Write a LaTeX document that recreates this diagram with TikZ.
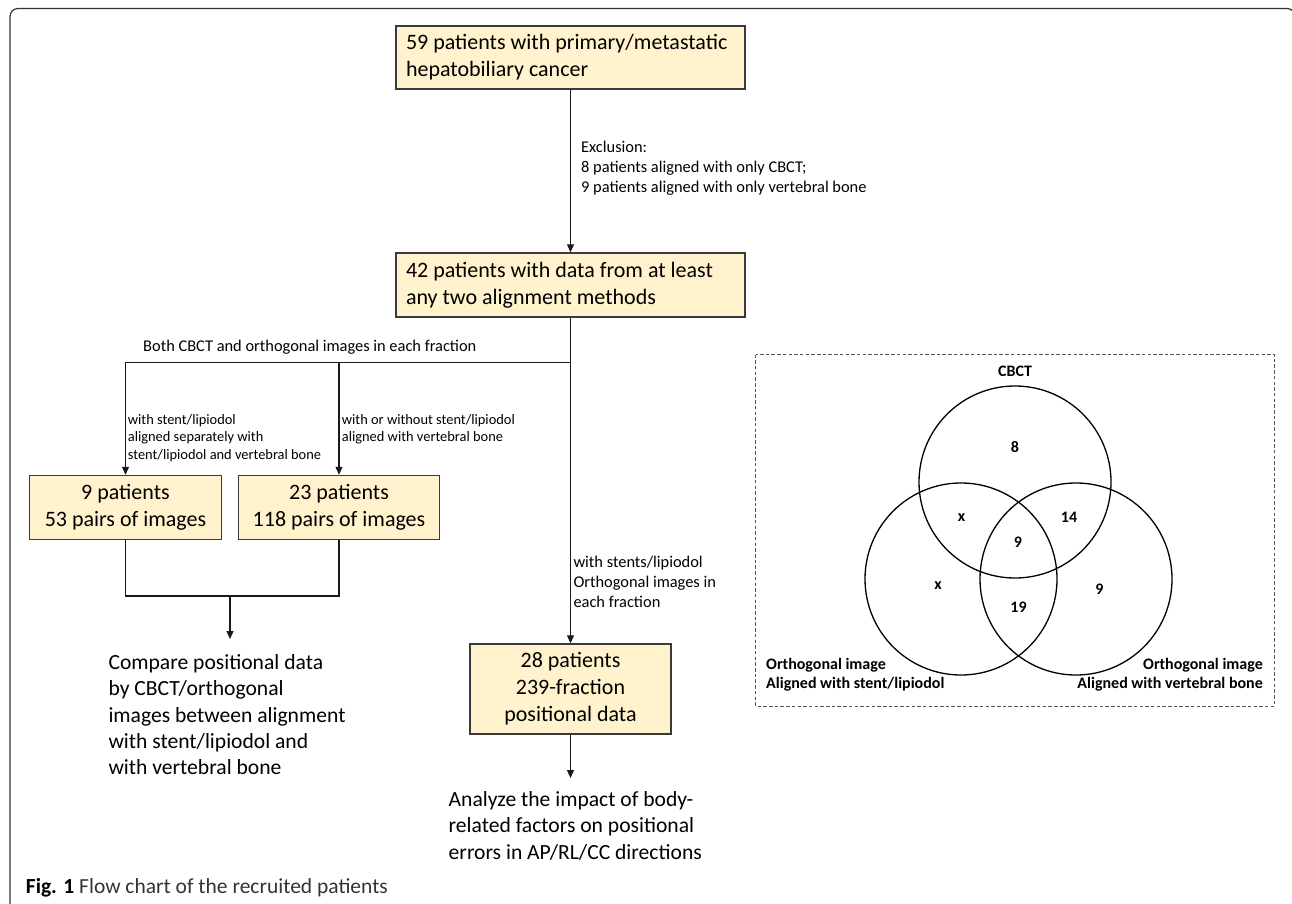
\documentclass[tikz,border=0pt]{standalone}
\usepackage{fontspec}
\setmainfont{Carlito}
\usetikzlibrary{arrows.meta}
\definecolor{boxfill}{HTML}{FFF2CC}
\definecolor{boxline}{HTML}{3A3A3A}
\definecolor{dashline}{HTML}{555555}
\tikzset{
  box/.style={draw=boxline, fill=boxfill, line width=1.4pt, inner sep=0pt,
    font=\fontsize{22}{27}\selectfont},
  conn/.style={draw=black!90, line width=1.2pt},
  arr/.style={conn, -{Triangle[length=8pt,width=7pt]}},
  lbl/.style={inner sep=0pt, align=left},
  small/.style={font=\fontsize{16.4}{20}\selectfont},
  tiny/.style={font=\fontsize{14.4}{17.5}\selectfont},
  big/.style={font=\fontsize{21.6}{26.4}\selectfont},
  vlab/.style={inner sep=0pt, font=\fontsize{16}{19.3}\selectfont\bfseries},
  vcirc/.style={circle, draw=black, line width=1.3pt, minimum size=192pt, inner sep=0pt},
}
\begin{document}
\begin{tikzpicture}[x=1pt,y=-1pt]
\useasboundingbox (0,0) rectangle (1292,904);
% outer frame
\draw[draw=black!80, line width=1.2pt, rounded corners=8pt]
  (10,906) -- (10,8.5) -- (1295,8.5) -- (1295,906);

% main boxes
\node[box, minimum width=349pt, minimum height=63pt, text width=329pt, align=flush left] (b1) at (570.5,57.5)
  {59 patients with primary/metastatic\\hepatobiliary cancer};
\node[box, minimum width=349pt, minimum height=64pt, text width=329pt, align=flush left] (b2) at (570.5,285)
  {42 patients with data from at least\\any two alignment methods};
\node[box, minimum width=192pt, minimum height=64pt, align=center] (ba) at (125.5,507.5)
  {9 patients\\53 pairs of images};
\node[box, minimum width=201pt, minimum height=64pt, align=center] (bb) at (339,507.5)
  {23 patients\\118 pairs of images};
\node[box, minimum width=201pt, minimum height=90pt, align=center] (bc) at (570.5,689)
  {28 patients\\239-fraction\\positional data};

% text-only nodes
\node[lbl, big, anchor=north west] (cmp) at (108.3,654)
  {Compare positional data\\by CBCT/orthogonal\\images between alignment\\with stent/lipiodol and\\with vertebral bone};
\node[lbl, big, anchor=north west] (ana) at (448.5,791)
  {Analyze the impact of body-\\related factors on positional\\errors in AP/RL/CC directions};

% labels
\node[lbl, small, anchor=north west] (exc) at (581,141)
  {Exclusion:\\8 patients aligned with only CBCT;\\9 patients aligned with only vertebral bone};
\node[lbl, small, anchor=base west] (both) at (143,351.6)
  {Both CBCT and orthogonal images in each fraction};
\node[lbl, tiny, anchor=north west] (la) at (127.7,414)
  {with stent/lipiodol\\aligned separately with\\stent/lipiodol and vertebral bone};
\node[lbl, tiny, anchor=north west] (lb) at (341.7,414)
  {with or without stent/lipiodol\\aligned with vertebral bone};
\node[lbl, small, anchor=north west] (lc) at (573.3,556.4)
  {with stents/lipiodol\\Orthogonal images in\\each fraction};

% connectors
\coordinate (j1) at (570.5,362.5);
\coordinate (jb) at (230,596);
\draw[arr] (b1) -- (b1 |- b2.north);
\draw[arr] (b2) -- (bc);
\draw[arr] (j1) -| (ba.north);
\draw[arr] (bb.north |- j1) -- (bb.north);
\draw[conn] (ba.south) |- (jb) -| (bb.south);
\draw[arr] (jb) -- ([yshift=15pt]jb |- cmp.north);
\draw[arr] (bc.south) -- ([yshift=13pt]bc.south |- ana.north);

% Venn diagram
\draw[dashline, line width=1pt, dash pattern=on 3.5pt off 2.2pt] (755.7,354.5) rectangle (1274.5,706);
\node[vcirc] (ct) at (1015,482) {};
\node[vcirc] (cl) at (961,579) {};
\node[vcirc] (cr) at (1076,579) {};
\node[vlab] (tcb) at (1015,371) {CBCT};
\node[vlab] (n8) at (1015,447) {8};
\node[vlab] (nx1) at (961.5,518) {x};
\node[vlab] (n14) at (1069,517) {14};
\node[vlab] (n9a) at (1018,542) {9};
\node[vlab] (nx2) at (938,586) {x};
\node[vlab] (n19) at (1018.5,607) {19};
\node[vlab] (n9b) at (1099.5,589) {9};
\node[vlab, align=left, anchor=north west] (tl) at (766,658) {Orthogonal image\\Aligned with stent/lipiodol};
\node[vlab, align=right, anchor=north east] (tr) at (1263,658) {Orthogonal image\\Aligned with vertebral bone};

% caption
\node[inner sep=0pt, anchor=base west, font=\fontsize{21.5}{24}\selectfont] (cap) at (25.7,893)
  {\textbf{Fig. 1} \textcolor{black!80}{Flow chart of the recruited patients}};
\end{tikzpicture}
\end{document}
